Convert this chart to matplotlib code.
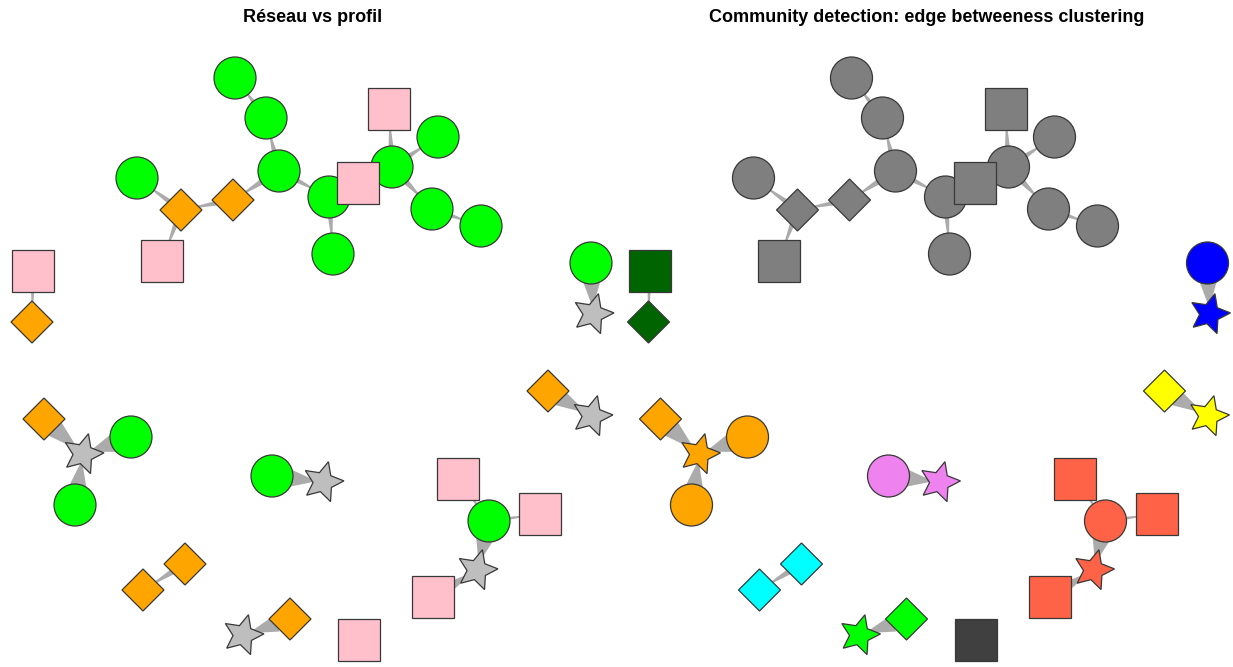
import numpy as np
import matplotlib
matplotlib.use("Agg")
import matplotlib.pyplot as plt
from matplotlib.patches import Circle, Rectangle, RegularPolygon, Polygon

# ---- data: network layout (same layout in both panels) ----
node_x = [235, 266, 279, 329, 333, 358, 392, 389, 438, 432, 481, 137, 181, 233, 162,
          33, 32, 591, 593, 548, 592, 44, 83, 131, 75, 272, 323,
          458, 489, 540, 477, 433, 143, 185, 243, 290, 359]
node_y = [78, 118, 171, 197, 254, 183, 167, 109, 137, 209, 226, 178, 210, 200, 261,
          271, 322, 263, 314, 391, 416, 419, 454, 437, 505, 476, 482,
          479, 521, 514, 570, 597, 590, 564, 635, 619, 640]
node_shape = ["circle", "circle", "circle", "circle", "circle", "square", "circle", "square",
              "circle", "circle", "circle", "circle", "diamond", "diamond", "square",
              "square", "diamond", "circle", "star", "diamond", "star", "diamond", "star",
              "circle", "circle", "circle", "star",
              "square", "circle", "square", "star", "square", "diamond", "diamond",
              "star", "diamond", "square"]
profile_color = ["#00FF00", "#00FF00", "#00FF00", "#00FF00", "#00FF00", "#FFC0CB", "#00FF00",
                 "#FFC0CB", "#00FF00", "#00FF00", "#00FF00", "#00FF00", "#FFA500", "#FFA500",
                 "#FFC0CB",
                 "#FFC0CB", "#FFA500", "#00FF00", "#BEBEBE", "#FFA500", "#BEBEBE", "#FFA500",
                 "#BEBEBE", "#00FF00", "#00FF00", "#00FF00", "#BEBEBE",
                 "#FFC0CB", "#00FF00", "#FFC0CB", "#BEBEBE", "#FFC0CB", "#FFA500", "#FFA500",
                 "#BEBEBE", "#FFA500", "#FFC0CB"]
community_color = ["#7F7F7F"] * 15 + [
    "#006400", "#006400", "#0000FF", "#0000FF", "#FFFF00", "#FFFF00",
    "#FFA500", "#FFA500", "#FFA500", "#FFA500", "#EE82EE", "#EE82EE",
    "#FF6347", "#FF6347", "#FF6347", "#FF6347", "#FF6347", "#00FFFF", "#00FFFF",
    "#00FF00", "#00FF00", "#404040"]

edge_from = [1, 2, 2, 13, 12, 12, 2, 3, 3, 5, 6, 6, 6, 9,
             15, 17, 19, 21, 23, 24, 25, 27, 28, 28, 31, 33, 35]
edge_to = [0, 1, 13, 12, 11, 14, 3, 4, 6, 6, 7, 8, 9, 10,
           16, 18, 20, 22, 22, 22, 26, 28, 29, 30, 30, 32, 34]
edge_weight = [4, 5, 6, 5, 5, 5, 5, 5, 5, 4, 5, 5, 6, 4,
               3, 17, 17, 19, 18, 17, 17, 3, 3, 17, 10, 6, 17]

titles = ["Réseau vs profil", "Community detection: edge betweeness clustering"]

# ---- drawing ----
W, H = 1233, 667
fig = plt.figure(figsize=(W / 100, H / 100), dpi=100)
fig.patch.set_facecolor("white")

EDGE_COL = "#ABABAB"
BORDER = "#383838"
R = 21.0
CLIP = {"circle": 19.0, "square": 19.0, "diamond": 14.0, "star": 9.0}


def star_vertices(cx, cy, r_out, r_in, rot_deg):
    pts = []
    for k in range(10):
        a = np.deg2rad(rot_deg + k * 36)
        r = r_out if k % 2 == 0 else r_in
        pts.append((cx + r * np.sin(a), cy - r * np.cos(a)))
    return pts


def draw_panel(ax, colors, title, title_x):
    ax.set_xlim(0, W / 2)
    ax.set_ylim(H, 0)
    ax.axis("off")
    # edges: tapered wedges, wide at the first node's border, narrow at the second
    for i, j, w in zip(edge_from, edge_to, edge_weight):
        xa, ya, xb, yb = node_x[i], node_y[i], node_x[j], node_y[j]
        d = np.hypot(xb - xa, yb - ya)
        ux, uy = (xb - xa) / d, (yb - ya) / d
        ca, cb = CLIP[node_shape[i]], CLIP[node_shape[j]]
        x0, y0 = xa + ux * ca, ya + uy * ca
        x1, y1 = xb - ux * cb, yb - uy * cb
        nx, ny = -uy, ux
        w0, w1 = w / 2.0, 0.9
        poly = [(x0 + nx * w0, y0 + ny * w0), (x1 + nx * w1, y1 + ny * w1),
                (x1 - nx * w1, y1 - ny * w1), (x0 - nx * w0, y0 - ny * w0)]
        ax.add_patch(Polygon(poly, closed=True, facecolor=EDGE_COL,
                             edgecolor="none", zorder=1))
    # nodes: circles first, then other shapes on top
    order = sorted(range(len(node_x)), key=lambda k: 0 if node_shape[k] == "circle" else 1)
    for k in order:
        x, y, s, c = node_x[k], node_y[k], node_shape[k], colors[k]
        kw = dict(facecolor=c, edgecolor=BORDER, linewidth=0.9, zorder=2)
        if s == "circle":
            p = Circle((x, y), R, **kw)
        elif s == "square":
            p = Rectangle((x - R, y - R), 2 * R, 2 * R, **kw)
        elif s == "diamond":
            p = RegularPolygon((x, y), numVertices=4, radius=R, orientation=0, **kw)
        else:
            p = Polygon(star_vertices(x, y, 21.0, 10.0, 15), closed=True, **kw)
        ax.add_patch(p)
    ax.text(title_x, 1 - 18 / H, title, transform=ax.transAxes, ha="center", va="center",
            fontsize=13, fontweight="bold", family="Liberation Sans")


ax1 = fig.add_axes([0, 0, 0.5, 1])
ax2 = fig.add_axes([0.5, 0, 0.5, 1])
draw_panel(ax1, profile_color, titles[0], 0.507)
draw_panel(ax2, community_color, titles[1], 0.503)

fig.savefig("out.png", dpi=100, facecolor="white")
